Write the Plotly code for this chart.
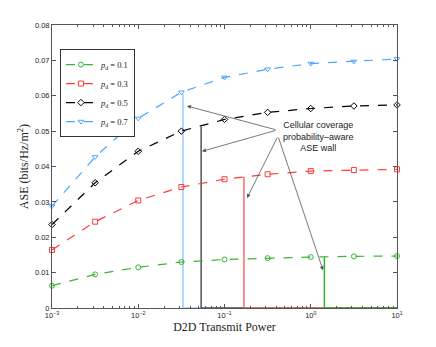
import plotly.graph_objects as go

# D2D transmit power samples (half-decade steps)
power = [1e-3, 10**-2.5, 1e-2, 10**-1.5, 1e-1, 10**-0.5, 1e0, 10**0.5, 1e1]

ase_p01 = [0.0063, 0.0095, 0.0115, 0.0130, 0.0137, 0.0141, 0.0144, 0.0146, 0.0147]
ase_p03 = [0.0164, 0.0244, 0.0304, 0.0342, 0.0364, 0.0378, 0.0387, 0.0390, 0.0392]
ase_p05 = [0.0236, 0.0354, 0.0443, 0.0500, 0.0533, 0.0553, 0.0564, 0.0571, 0.0574]
ase_p07 = [0.0288, 0.0427, 0.0536, 0.0610, 0.0652, 0.0675, 0.0691, 0.0697, 0.0704]

labels = ["0.1", "0.3", "0.5", "0.7"]

# coverage-aware wall: threshold power and ASE value reached there
wall_power = [1.44, 0.168, 0.0536, 0.033]
wall_ase = [0.0146, 0.0371, 0.0512, 0.0606]

x_tickvals = [1e-3, 1e-2, 1e-1, 1e0, 1e1]
x_ticktext = ["10<sup>\u22123</sup>", "10<sup>\u22122</sup>", "10<sup>\u22121</sup>",
              "10<sup>0</sup>", "10<sup>1</sup>"]

colors = ["#36b536", "#ff3b3b", "#000000", "#4da6ff"]
wall_colors = ["#2fb52f", "#ff6a6a", "#555555", "#99ccff"]
symbols = ["circle-open", "square-open", "diamond-open", "triangle-down-open"]

fig = go.Figure()

# walls first (drawn under curves), blue at the back
for i in [3, 2, 1, 0]:
    fig.add_trace(go.Scatter(
        x=[wall_power[i], wall_power[i], power[-1]],
        y=[wall_ase[i], 0, 0],
        mode="lines", line=dict(color=wall_colors[i], width=1.5),
        showlegend=False, cliponaxis=False,
    ))

for i, ys in enumerate([ase_p01, ase_p03, ase_p05, ase_p07]):
    fig.add_trace(go.Scatter(
        x=power, y=ys, mode="lines+markers",
        name=f"<i>p</i><sub>d</sub> = {labels[i]}",
        line=dict(color=colors[i], dash="dash", width=1.2),
        marker=dict(symbol=symbols[i], size=5, color=colors[i], line=dict(width=1)),
        cliponaxis=False,
    ))

# annotation with arrows (log axis -> x in log10 units)
tails = [(-0.391, 0.0503), (-0.391, 0.0503), (-0.380, 0.0486), (-0.380, 0.0486)]
tips = [(-1.435, 0.0571), (-1.261, 0.0443), (-0.739, 0.0311), (0.142, 0.0107)]
for (tx, ty), (hx, hy) in zip(tails, tips):
    fig.add_annotation(
        x=hx, y=hy, ax=tx, ay=ty, axref="x", ayref="y", xref="x", yref="y",
        text="", showarrow=True, arrowhead=2, arrowsize=1, arrowwidth=0.8,
        arrowcolor="#555555",
    )
fig.add_annotation(
    x=0.084, y=0.0486, xref="x", yref="y", showarrow=False,
    text="Cellular coverage<br>probability\u2013aware<br>ASE wall",
    font=dict(family="Liberation Sans", size=9, color="#222222"),
    align="center",
)
# y-axis title placed by hand
fig.add_annotation(
    x=-0.082, y=0.5, xref="paper", yref="paper", showarrow=False,
    text="ASE (bits/Hz/m<sup>2</sup>)", textangle=-90,
    xanchor="center", yanchor="middle",
    font=dict(family="Liberation Serif", size=12, color="#222222"),
)

axis_style = dict(
    showline=True, linecolor="#555555", linewidth=1, mirror="ticks",
    ticks="inside", tickcolor="#555555", ticklen=4, showgrid=False,
    zeroline=False, tickfont=dict(family="Liberation Sans", size=7.5, color="#222222"),
)

fig.update_xaxes(
    type="log", range=[-3, 1], tickvals=x_tickvals, ticktext=x_ticktext,
    minor=dict(ticks="inside", ticklen=2, tickcolor="#555555", dtick="D1", showgrid=False),
    title=dict(text="D2D Transmit Power", standoff=2,
               font=dict(family="Liberation Serif", size=12, color="#222222")),
    **axis_style,
)
fig.update_yaxes(range=[0, 0.08], dtick=0.01, **axis_style)

# page body adds an 8px offset, so margins are shifted to compensate
fig.update_layout(
    width=436, height=347,
    margin=dict(l=44, r=47, t=17, b=47, autoexpand=False),
    plot_bgcolor="white", paper_bgcolor="white",
    legend=dict(
        x=0.023, y=0.915, xanchor="left", yanchor="top",
        bordercolor="#333333", borderwidth=1, bgcolor="white",
        font=dict(family="Liberation Serif", size=8.5, color="#222222"),
        tracegroupgap=0, itemwidth=30,
    ),
)

fig.write_html("out.html")
